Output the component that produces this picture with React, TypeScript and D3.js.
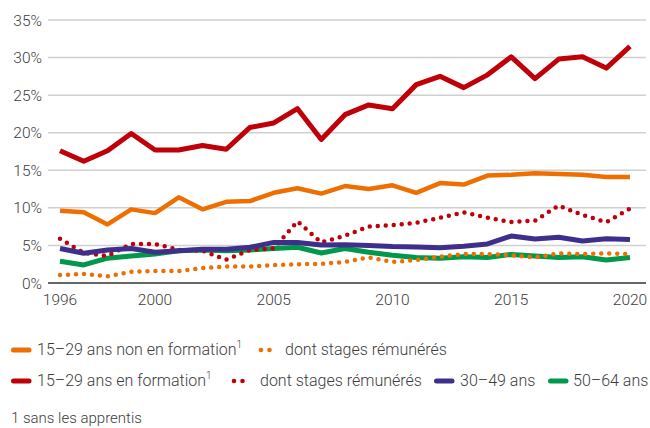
import * as d3 from 'd3';
import { useEffect, useRef } from 'react';

const WIDTH = 650;
const HEIGHT = 428;

const years = d3.range(1996, 2021);

// values in percent
const nonFormation = [
    9.6, 9.4, 7.8, 9.8, 9.3, 11.4, 9.8, 10.8, 10.9, 12.0, 12.6, 11.9, 12.9, 12.5, 13.0, 12.0, 13.3, 13.1, 14.3,
    14.4, 14.6, 14.5, 14.4, 14.1, 14.1,
];
const nonFormationStages = [
    1.05, 1.2, 0.9, 1.5, 1.6, 1.6, 2.0, 2.2, 2.2, 2.4, 2.5, 2.55, 2.8, 3.4, 2.8, 3.05, 3.5, 3.85, 3.85, 3.7, 3.4,
    3.95, 3.85, 3.95, 3.85,
];
const enFormation = [
    17.6, 16.2, 17.6, 19.9, 17.7, 17.7, 18.3, 17.8, 20.7, 21.3, 23.2, 19.1, 22.4, 23.7, 23.2, 26.4, 27.5, 26.0,
    27.7, 30.1, 27.2, 29.8, 30.1, 28.6, 31.5,
];
const enFormationStages = [
    5.9, 4.0, 3.6, 5.2, 5.2, 4.4, 4.3, 3.1, 4.4, 4.6, 8.2, 5.4, 6.3, 7.5, 7.7, 8.0, 8.7, 9.4, 8.7, 8.1, 8.3, 10.3,
    9.05, 8.1, 9.9,
];
const age3049 = [
    4.6, 3.95, 4.4, 4.6, 4.1, 4.3, 4.5, 4.5, 4.75, 5.4, 5.4, 5.05, 5.1, 5.0, 4.85, 4.8, 4.7, 4.9, 5.2, 6.25, 5.85,
    6.1, 5.6, 5.9, 5.8,
];
const age5064 = [
    2.9, 2.4, 3.3, 3.6, 3.85, 4.3, 4.4, 4.3, 4.4, 4.6, 4.75, 4.0, 4.6, 4.1, 3.7, 3.4, 3.3, 3.5, 3.4, 3.8, 3.6, 3.4,
    3.5, 3.05, 3.4,
];

const yTicks = [0, 5, 10, 15, 20, 25, 30, 35];
const xTicks = [1996, 2000, 2005, 2010, 2015, 2020];

const ORANGE = '#ee6f00';
const RED = '#c00008';
const BLUE = '#3e2f8c';
const GREEN = '#00984a';
const TEXT = '#3c3c3c';
const FONT = 'Roboto, "Noto Sans", sans-serif';

type Series = { values: number[]; color: string; dotted: boolean; width: number };

// drawing order (bottom first)
const series: Series[] = [
    { values: age5064, color: GREEN, dotted: false, width: 5 },
    { values: nonFormationStages, color: ORANGE, dotted: true, width: 4.5 },
    { values: enFormationStages, color: RED, dotted: true, width: 4.5 },
    { values: age3049, color: BLUE, dotted: false, width: 5 },
    { values: nonFormation, color: ORANGE, dotted: false, width: 4.5 },
    { values: enFormation, color: RED, dotted: false, width: 5 },
];

const App = () => {
    const svgRef = useRef<SVGSVGElement | null>(null);

    useEffect(() => {
        if (!svgRef.current) return;
        const svg = d3.select(svgRef.current);
        svg.selectAll('*').remove();

        const x = d3.scaleLinear().domain([1996, 2020]).range([60, 630]);
        const y = d3.scaleLinear().domain([0, 35]).range([283, 20]);
        const gridLeft = 48;
        const gridRight = 646;

        // grid lines
        svg.append('g')
            .selectAll('line')
            .data(yTicks.filter((t) => t > 0))
            .join('line')
            .attr('x1', gridLeft)
            .attr('x2', gridRight)
            .attr('y1', (d) => y(d))
            .attr('y2', (d) => y(d))
            .attr('stroke', '#d0d0d0')
            .attr('stroke-width', 1.5);

        // baseline
        svg.append('line')
            .attr('x1', gridLeft)
            .attr('x2', gridRight)
            .attr('y1', y(0))
            .attr('y2', y(0))
            .attr('stroke', '#666')
            .attr('stroke-width', 2);

        // y labels
        svg.append('g')
            .selectAll('text')
            .data(yTicks)
            .join('text')
            .attr('x', 42)
            .attr('y', (d) => y(d))
            .attr('dy', '0.36em')
            .attr('text-anchor', 'end')
            .attr('fill', TEXT)
            .style('font-family', FONT)
            .style('font-weight', 300)
            .style('font-size', '15.5px')
            .text((d) => `${d}%`);

        // x labels
        svg.append('g')
            .selectAll('text')
            .data(xTicks)
            .join('text')
            .attr('x', (d) => x(d))
            .attr('y', 305)
            .attr('text-anchor', 'middle')
            .attr('fill', TEXT)
            .style('font-family', FONT)
            .style('font-weight', 300)
            .style('font-size', '15.5px')
            .text((d) => d);

        const line = d3
            .line<number>()
            .x((_, i) => x(years[i]))
            .y((d) => y(d));

        series.forEach((s) => {
            const p = svg
                .append('path')
                .attr('d', line(s.values))
                .attr('fill', 'none')
                .attr('stroke', s.color)
                .attr('stroke-width', s.width)
                .attr('stroke-linejoin', 'round');
            if (s.dotted) {
                p.attr('stroke-dasharray', '0 8').attr('stroke-linecap', 'round');
            }
        });

        // legend
        const legend = svg.append('g').style('font-family', FONT).style('font-weight', 300).style('font-size', '16px');

        const swatch = (x0: number, cy: number, color: string) =>
            legend
                .append('line')
                .attr('x1', x0 + 2.5)
                .attr('x2', x0 + 18)
                .attr('y1', cy)
                .attr('y2', cy)
                .attr('stroke', color)
                .attr('stroke-width', 5)
                .attr('stroke-linecap', 'round');

        const dots = (x0: number, cy: number, color: string) =>
            legend
                .selectAll(null)
                .data([0, 1])
                .join('circle')
                .attr('cx', (d) => x0 + d * 8.5)
                .attr('cy', cy)
                .attr('r', 2.3)
                .attr('fill', color);

        const label = (x0: number, by: number, txt: string, sup = false) => {
            const t = legend.append('text').attr('x', x0).attr('y', by).attr('fill', TEXT).text(txt);
            if (sup) {
                t.append('tspan').attr('dy', -7).style('font-size', '10px').text('1');
            }
        };

        // row 1
        swatch(11, 350, ORANGE);
        label(37, 355, '15–29 ans non en formation', true);
        dots(261, 350, ORANGE);
        label(285, 355, 'dont stages rémunérés');

        // row 2
        swatch(11, 381, RED);
        label(37, 386, '15–29 ans en formation', true);
        dots(234, 381, RED);
        label(260, 386, 'dont stages rémunérés');
        swatch(434, 381, BLUE);
        label(460, 386, '30–49 ans');
        swatch(548, 381, GREEN);
        label(573, 386, '50–64 ans');

        // footnote
        legend.append('text').attr('x', 11).attr('y', 423).attr('fill', TEXT).style('font-size', '15px').text('1 sans les apprentis');
    }, []);

    return (
        <svg
            ref={svgRef}
            width={WIDTH}
            height={HEIGHT}
            style={{ position: 'absolute', left: 0, top: 0, background: '#fff' }}
        ></svg>
    );
};

export default App;
